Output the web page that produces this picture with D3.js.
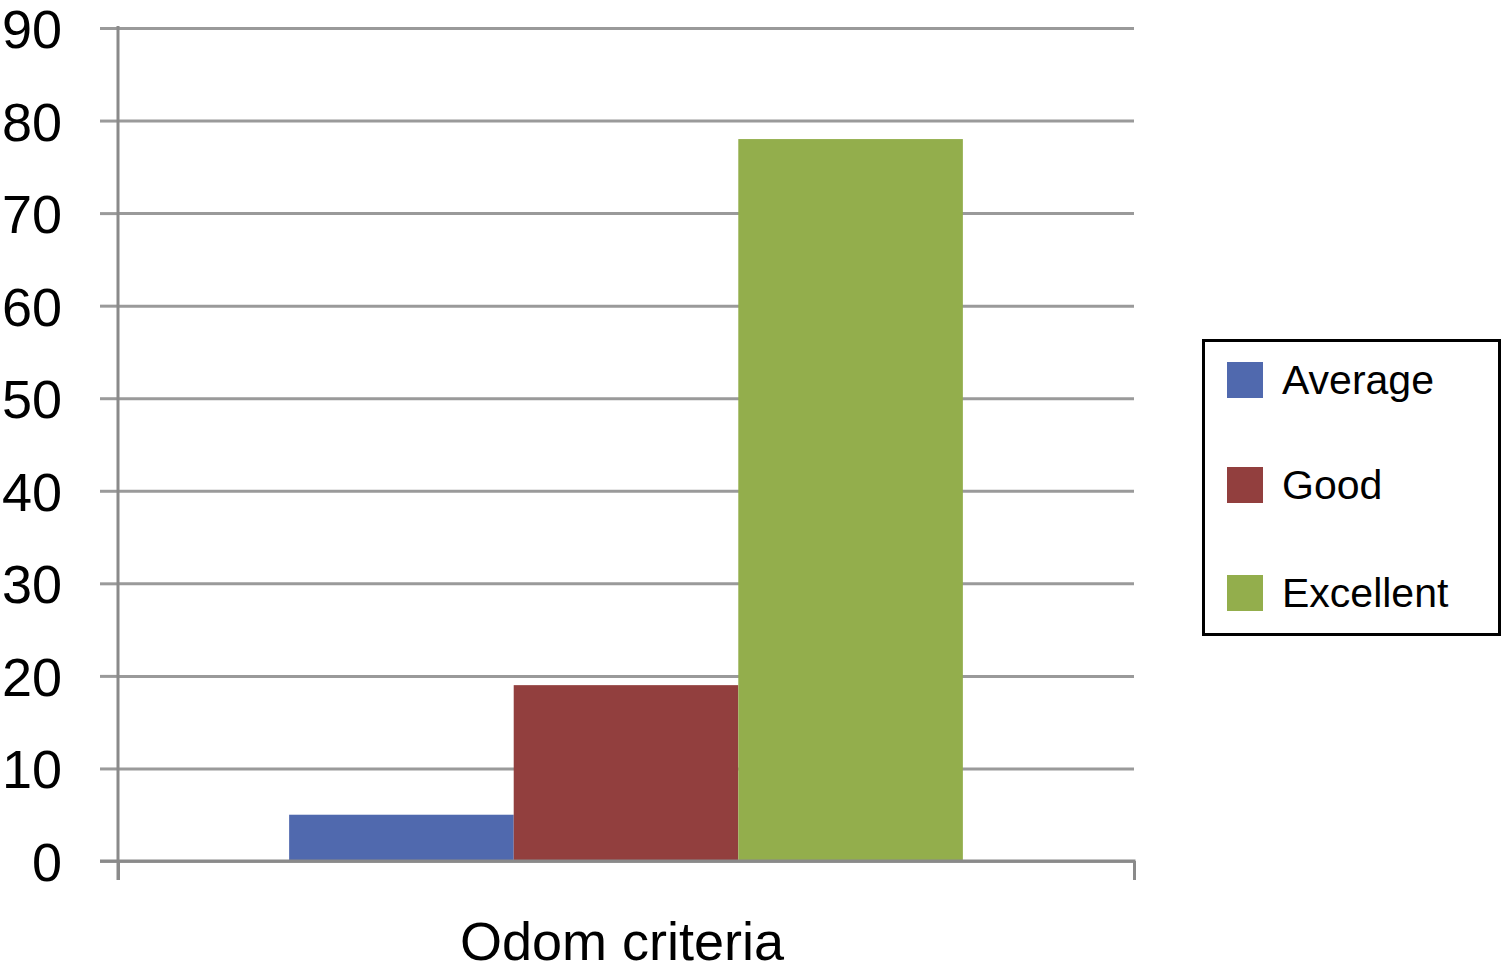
<!DOCTYPE html>
<html>
<head>
<meta charset="utf-8">
<script src="https://cdn.jsdelivr.net/npm/d3@7"></script>
<style>
  html, body { margin: 0; padding: 0; background: #fff; }
  svg { display: block; font-family: "Liberation Sans", Arial, sans-serif; }
</style>
</head>
<body>
<svg id="chart" width="1507" height="972"></svg>
<script>
const categories = ["Odom criteria"];
const seriesNames = ["Average", "Good", "Excellent"];
const seriesValues = [5, 19, 78];
const seriesColors = ["#5069ae", "#923f3e", "#93ae4c"];
const yTicks = [0, 10, 20, 30, 40, 50, 60, 70, 80, 90];

const svg = d3.select("#chart");
const plotLeft = 118, plotRight = 1134, plotTop = 28, plotBottom = 861;

const y = d3.scaleLinear().domain([0, 90]).range([plotBottom, plotTop]);
const x0 = d3.scaleBand().domain(categories).range([plotLeft, plotRight]).paddingInner(0).paddingOuter(0.254);
const x1 = d3.scaleBand().domain(seriesNames).range([0, x0.bandwidth()]).padding(0);

// gridlines
const grid = svg.append("g").attr("transform", `translate(${plotLeft},0)`)
  .call(d3.axisLeft(y).tickValues(yTicks).tickSize(-(plotRight - plotLeft)).tickFormat(""));
grid.select(".domain").remove();
grid.selectAll(".tick line").attr("stroke", "#9a9a9a").attr("stroke-width", 3);

// left tick extensions + labels
svg.append("g").attr("transform", `translate(${plotLeft},0)`)
  .call(d3.axisLeft(y).tickValues(yTicks).tickSize(18).tickFormat(d => d))
  .call(g => {
    g.select(".domain").remove();
    g.selectAll(".tick line").attr("stroke", "#9a9a9a").attr("stroke-width", 3);
    g.selectAll(".tick text").attr("x", -56).attr("font-size", 54).attr("fill", "#000")
      .attr("font-family", "'Liberation Sans', Arial, sans-serif").attr("dy", "0.36em");
  });

// bars
svg.append("g").selectAll("rect")
  .data(seriesNames.map((s, i) => ({ cat: categories[0], s, v: seriesValues[i], c: seriesColors[i] })))
  .join("rect")
  .attr("x", d => x0(d.cat) + x1(d.s))
  .attr("width", x1.bandwidth())
  .attr("y", d => y(d.v))
  .attr("height", d => y(0) - y(d.v))
  .attr("fill", d => d.c);

// y axis line
svg.append("line").attr("x1", plotLeft).attr("x2", plotLeft).attr("y1", plotTop - 2).attr("y2", plotBottom + 19)
  .attr("stroke", "#8a8a8a").attr("stroke-width", 3);
// x axis
const xa = svg.append("g").attr("transform", `translate(0,${plotBottom})`)
  .call(d3.axisBottom(d3.scaleLinear().domain([0, 1]).range([plotLeft, plotRight])).tickValues([0, 1]).tickSize(19).tickFormat(""));
xa.select(".domain").remove();
xa.selectAll(".tick line").attr("stroke", "#8a8a8a").attr("stroke-width", 3);
svg.append("line").attr("x1", 100).attr("x2", plotRight + 1.5).attr("y1", plotBottom).attr("y2", plotBottom)
  .attr("stroke", "#8a8a8a").attr("stroke-width", 3);

// category label
svg.append("text").attr("x", x0(categories[0]) + x0.bandwidth() / 2 - 4).attr("y", 960)
  .attr("text-anchor", "middle").attr("font-size", 54).attr("fill", "#000").text(categories[0]);

// legend
const lg = svg.append("g");
lg.append("rect").attr("x", 1203.5).attr("y", 340.5).attr("width", 296).attr("height", 294)
  .attr("fill", "#fff").attr("stroke", "#000").attr("stroke-width", 3);
const ly = [362, 467, 575];
seriesNames.forEach((s, i) => {
  lg.append("rect").attr("x", 1227).attr("y", ly[i]).attr("width", 36).attr("height", 36).attr("fill", seriesColors[i]);
  lg.append("text").attr("x", 1282).attr("y", ly[i] + 32).attr("font-size", 41).attr("fill", "#000").text(s);
});
</script>
</body>
</html>
